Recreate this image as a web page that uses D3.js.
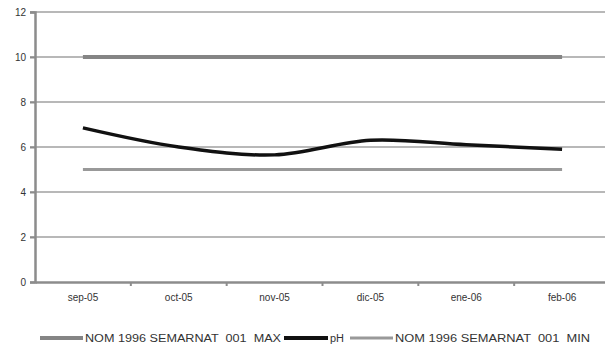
<!DOCTYPE html>
<html>
<head>
<meta charset="utf-8">
<script src="https://cdn.jsdelivr.net/npm/d3@7"></script>
<style>
  html, body { margin: 0; padding: 0; background: #fff; }
  svg { display: block; }
  text { font-family: "Liberation Sans", Arial, sans-serif; fill: #333; }
</style>
</head>
<body>
<script>
// Monthly pH readings against the NOM-001-SEMARNAT-1996 limits
const months = ["sep-05", "oct-05", "nov-05", "dic-05", "ene-06", "feb-06"];
const phValues = [6.85, 6.0, 5.65, 6.3, 6.1, 5.9];
const nomMax = [10, 10, 10, 10, 10, 10];
const nomMin = [5, 5, 5, 5, 5, 5];
const yTicks = [0, 2, 4, 6, 8, 10, 12];
const legendLabels = ["NOM 1996 SEMARNAT  001  MAX", "pH", "NOM 1996 SEMARNAT  001  MIN"];

const W = 605, H = 350;
const svg = d3.select("body").append("svg").attr("width", W).attr("height", H);

const x = d3.scaleBand().domain(months).range([35, 610]);
const y = d3.scaleLinear().domain([0, 12]).range([282, 12]);
const cx = m => x(m) + x.bandwidth() / 2;

// horizontal gridlines
svg.append("g").selectAll("line").data(yTicks.filter(t => t > 0)).join("line")
  .attr("x1", 30).attr("x2", W + 10)
  .attr("y1", d => y(d)).attr("y2", d => y(d))
  .attr("stroke", "#b8b8b8").attr("stroke-width", 2);

// y axis
const yAxis = svg.append("g").attr("transform", "translate(35,0)")
  .call(d3.axisLeft(y).tickValues(yTicks).tickSize(5).tickPadding(4));
yAxis.select(".domain").attr("stroke", "#8c8c8c").attr("stroke-width", 2.5);
yAxis.selectAll(".tick line").attr("stroke", "#8c8c8c").attr("stroke-width", 2);
yAxis.selectAll(".tick text").attr("font-size", 10).attr("fill", "#555")
  .style("font-family", "'Liberation Sans', Arial, sans-serif");

// x axis
const xAxis = svg.append("g").attr("transform", "translate(0,282)")
  .call(d3.axisBottom(x).tickSize(0).tickPadding(12));
xAxis.select(".domain").attr("stroke", "#8c8c8c").attr("stroke-width", 2.5);
xAxis.selectAll(".tick text").attr("font-size", 10).attr("fill", "#555")
  .style("font-family", "'Liberation Sans', Arial, sans-serif");
// category separators
svg.append("g").selectAll("line").data(months.slice(1)).join("line")
  .attr("x1", d => x(d)).attr("x2", d => x(d))
  .attr("y1", 282).attr("y2", 286)
  .attr("stroke", "#8c8c8c").attr("stroke-width", 2);

const flat = d3.line().x((d, i) => cx(months[i])).y(d => y(d));
const smooth = d3.line().x((d, i) => cx(months[i])).y(d => y(d)).curve(d3.curveCatmullRom.alpha(0.5));

svg.append("path").datum(nomMax).attr("d", flat)
  .attr("fill", "none").attr("stroke", "#858585").attr("stroke-width", 4);
svg.append("path").datum(nomMin).attr("d", flat)
  .attr("fill", "none").attr("stroke", "#999").attr("stroke-width", 3);
svg.append("path").datum(phValues).attr("d", smooth)
  .attr("fill", "none").attr("stroke", "#111").attr("stroke-width", 3.5);

// legend
const legendY = 338;
const legend = [
  { x0: 40, x1: 83, tx: 85, color: "#858585", w: 4, label: legendLabels[0], len: 196 },
  { x0: 284, x1: 328, tx: 330, color: "#111", w: 4, label: legendLabels[1], len: 14 },
  { x0: 350, x1: 393, tx: 395, color: "#999", w: 3, label: legendLabels[2], len: 195 }
];
const lg = svg.append("g");
legend.forEach(d => {
  lg.append("line").attr("x1", d.x0).attr("x2", d.x1).attr("y1", legendY).attr("y2", legendY)
    .attr("stroke", d.color).attr("stroke-width", d.w);
  lg.append("text").attr("x", d.tx).attr("y", legendY + 3.5)
    .attr("font-size", 10).attr("fill", "#555")
    .attr("textLength", d.len).attr("lengthAdjust", "spacingAndGlyphs")
    .style("white-space", "pre")
    .text(d.label);
});
</script>
</body>
</html>
